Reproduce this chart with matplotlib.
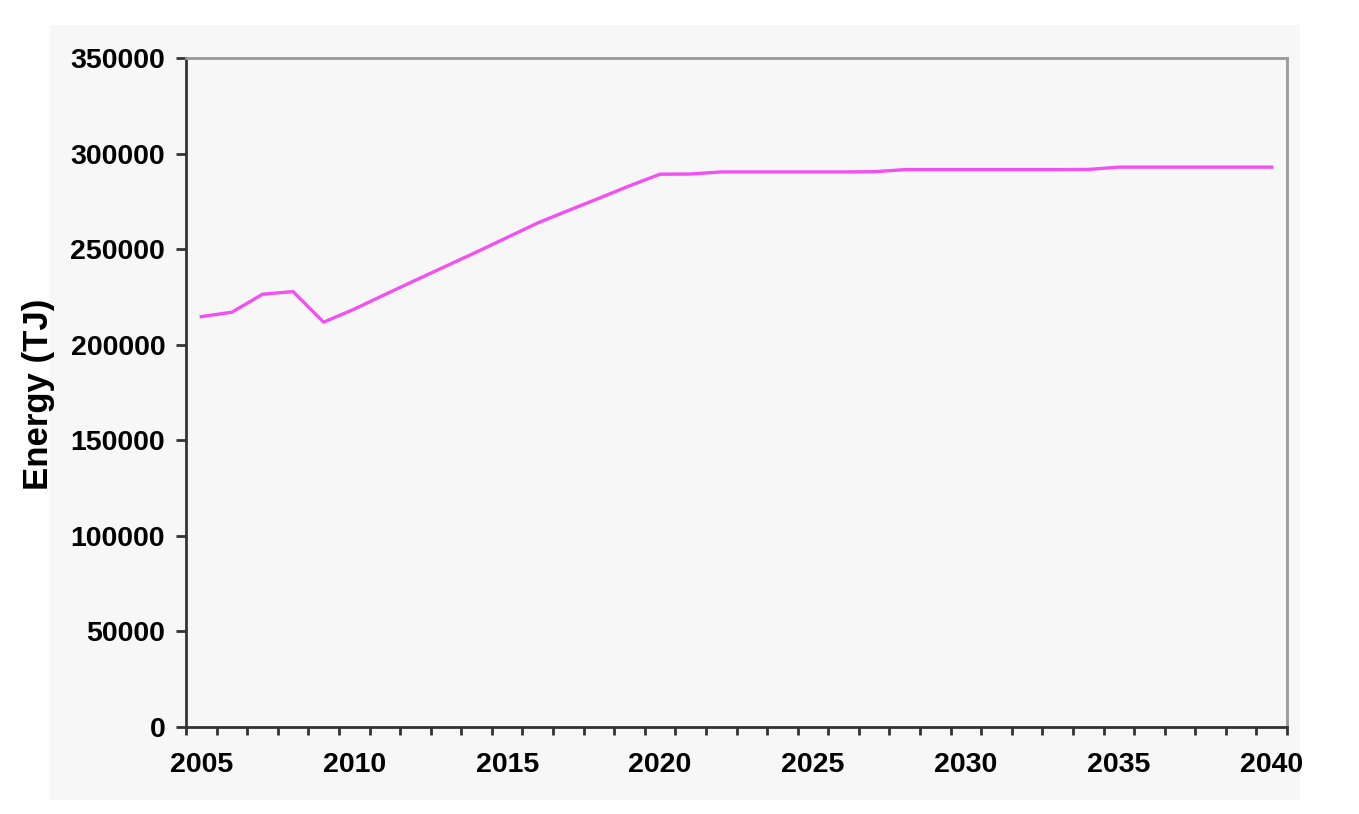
import matplotlib.pyplot as plt
from matplotlib.patches import Rectangle

# data
years = list(range(2005, 2041))
energy = [214700, 217000, 226400, 227800, 211800, 218600, 226200, 233700, 241100, 248500,
          256100, 263700, 270200, 276600, 283100, 289200, 289300, 290400, 290400, 290400,
          290400, 290400, 290500, 291600, 291600, 291600, 291600, 291600, 291600, 291700,
          292900, 292900, 292900, 292900, 292900, 292900]
label_years = [2005, 2010, 2015, 2020, 2025, 2030, 2035, 2040]
yticks = [0, 50000, 100000, 150000, 200000, 250000, 300000, 350000]

plt.rcParams['font.family'] = ['Liberation Sans', 'DejaVu Sans']

fig = plt.figure(figsize=(13.59, 8.14), dpi=100)
fig.patch.set_facecolor('white')

# light grey chart-area box behind everything
box = Rectangle((50 / 1359, 1 - 800 / 814), 1250 / 1359, 775 / 814,
                transform=fig.transFigure, facecolor='#f7f7f7',
                edgecolor='none', zorder=-10)
fig.patches.append(box)

ax = fig.add_axes([186 / 1359, 1 - 727 / 814, 1101 / 1359, 669 / 814])
ax.set_facecolor('#f7f7f7')

ax.plot(years, energy, color='#f250f2', lw=2.4, solid_joinstyle='round')

ax.set_xlim(years[0] - 0.5, years[-1] + 0.5)
ax.set_ylim(0, 350000)

# category axis: labels at centres, tick marks between categories
ax.set_xticks(label_years)
ax.set_xticklabels([str(y) for y in label_years])
ax.set_xticks([y - 0.5 for y in years] + [years[-1] + 0.5], minor=True)
ax.tick_params(axis='x', which='major', length=0, pad=18, labelsize=20.5)
ax.tick_params(axis='x', which='minor', length=6, width=2, color='#333333', direction='out')

ax.set_yticks(yticks)
ax.set_yticklabels([str(v) for v in yticks])
ax.tick_params(axis='y', length=7, width=2, color='#333333', pad=8, labelsize=20.5, direction='out')

for lab in ax.get_xticklabels() + ax.get_yticklabels():
    lab.set_fontweight('bold')

ax.spines['left'].set_color('#333333')
ax.spines['bottom'].set_color('#333333')
ax.spines['left'].set_linewidth(2)
ax.spines['bottom'].set_linewidth(2)
ax.spines['top'].set_color('#999999')
ax.spines['right'].set_color('#999999')
ax.spines['top'].set_linewidth(2)
ax.spines['right'].set_linewidth(2)

fig.text(39 / 1359, 1 - 394 / 814, 'Energy (TJ)', rotation=90, ha='center', va='center',
         fontsize=25, fontweight='bold')

fig.savefig('out.png', dpi=100)
